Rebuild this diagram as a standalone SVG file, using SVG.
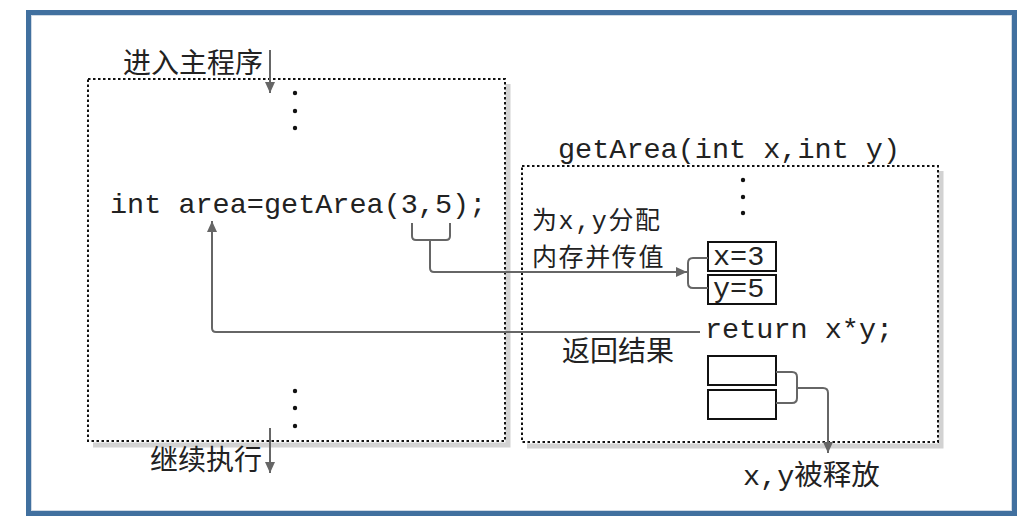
<svg xmlns="http://www.w3.org/2000/svg" width="1031" height="520" viewBox="0 0 1031 520">
<style>
.cjk{font-family:"Noto Sans CJK SC",sans-serif;font-size:28px;fill:#222}
.mono{font-family:"Liberation Mono","Noto Sans CJK SC",monospace;font-size:28.5px;fill:#222}
.note{font-size:25px;letter-spacing:1.6px}
.dot{fill:none;stroke:#111;stroke-width:2;stroke-dasharray:2.5 2.5}
.shadow{fill:none;stroke:#d2d2d2;stroke-width:5}
.cell{fill:#fff;stroke:#111;stroke-width:2}
.conn{fill:none;stroke:#666;stroke-width:2}
</style>
<defs>
<marker id="ah" markerUnits="userSpaceOnUse" markerWidth="12" markerHeight="10" refX="11" refY="5" orient="auto">
<path d="M0,0 L11,5 L0,10 Z" fill="#666"/>
</marker>
</defs>
<rect x="0" y="0" width="1031" height="520" fill="#fff"/>
<rect id="frame" x="28.5" y="12.5" width="986" height="501" fill="none" stroke="#41709f" stroke-width="5"/>
<rect x="31.5" y="15.5" width="980" height="495" fill="none" stroke="#cfd9e4" stroke-width="1"/>

<g id="main-program">
<polyline class="shadow" points="93,445 508,445 508,84"/>
<rect class="dot" x="88" y="79" width="417" height="362"/>
<circle cx="295" cy="93" r="2.2" fill="#111"/>
<circle cx="295" cy="111" r="2.2" fill="#111"/>
<circle cx="295" cy="128" r="2.2" fill="#111"/>
<text class="mono" x="110" y="213">int area=getArea(3,5);</text>
<circle cx="295" cy="391" r="2.2" fill="#111"/>
<circle cx="295" cy="408" r="2.2" fill="#111"/>
<circle cx="295" cy="426" r="2.2" fill="#111"/>
</g>

<g id="label-enter"><text class="cjk" x="123" y="73">进入主程序</text></g>
<g id="label-continue"><text class="cjk" x="150" y="470">继续执行</text></g>

<g id="getArea-method">
<polyline class="shadow" points="527,446 941,446 941,171"/>
<rect class="dot" x="522" y="166" width="416" height="276"/>
<text class="mono" x="558" y="158">getArea(int x,int y)</text>
<circle cx="743" cy="180" r="2.2" fill="#111"/>
<circle cx="743" cy="197" r="2.2" fill="#111"/>
<circle cx="743" cy="213" r="2.2" fill="#111"/>
<text class="mono note" x="532" y="229">为x,y分配</text>
<text class="cjk note" x="532" y="266">内存并传值</text>
<text class="mono" x="705" y="338">return x*y;</text>
<text class="cjk" x="562" y="361">返回结果</text>
</g>

<g id="cell-x"><rect class="cell" x="708" y="242" width="68" height="29"/><text class="mono" x="713" y="265">x=3</text></g>
<g id="cell-y"><rect class="cell" x="708" y="275" width="68" height="29"/><text class="mono" x="713" y="297">y=5</text></g>
<g id="cell-free-1"><rect class="cell" x="708" y="356" width="68" height="29"/></g>
<g id="cell-free-2"><rect class="cell" x="708" y="390" width="68" height="29"/></g>

<g id="label-released"><text class="mono" x="743" y="485">x,y被释放</text></g>

<g id="connectors">
<line class="conn" x1="270" y1="50" x2="270" y2="93" marker-end="url(#ah)"/>
<line class="conn" x1="270" y1="428" x2="270" y2="473" marker-end="url(#ah)"/>
<path class="conn" d="M412,223 V236 Q412,240 416,240 H446 Q450,240 450,236 V223"/>
<path class="conn" d="M430,240 V268 Q430,272 434,272 H687" marker-end="url(#ah)"/>
<path class="conn" d="M708,258 H693 Q688,258 688,263 V283 Q688,288 693,288 H708"/>
<path class="conn" d="M700,332 H216 Q212,332 212,328 V221" marker-end="url(#ah)"/>
<path class="conn" d="M776,372 H792 Q797,372 797,377 V398 Q797,403 792,403 H776"/>
<path class="conn" d="M797,388 H823 Q828,388 828,393 V453" marker-end="url(#ah)"/>
</g>
</svg>
